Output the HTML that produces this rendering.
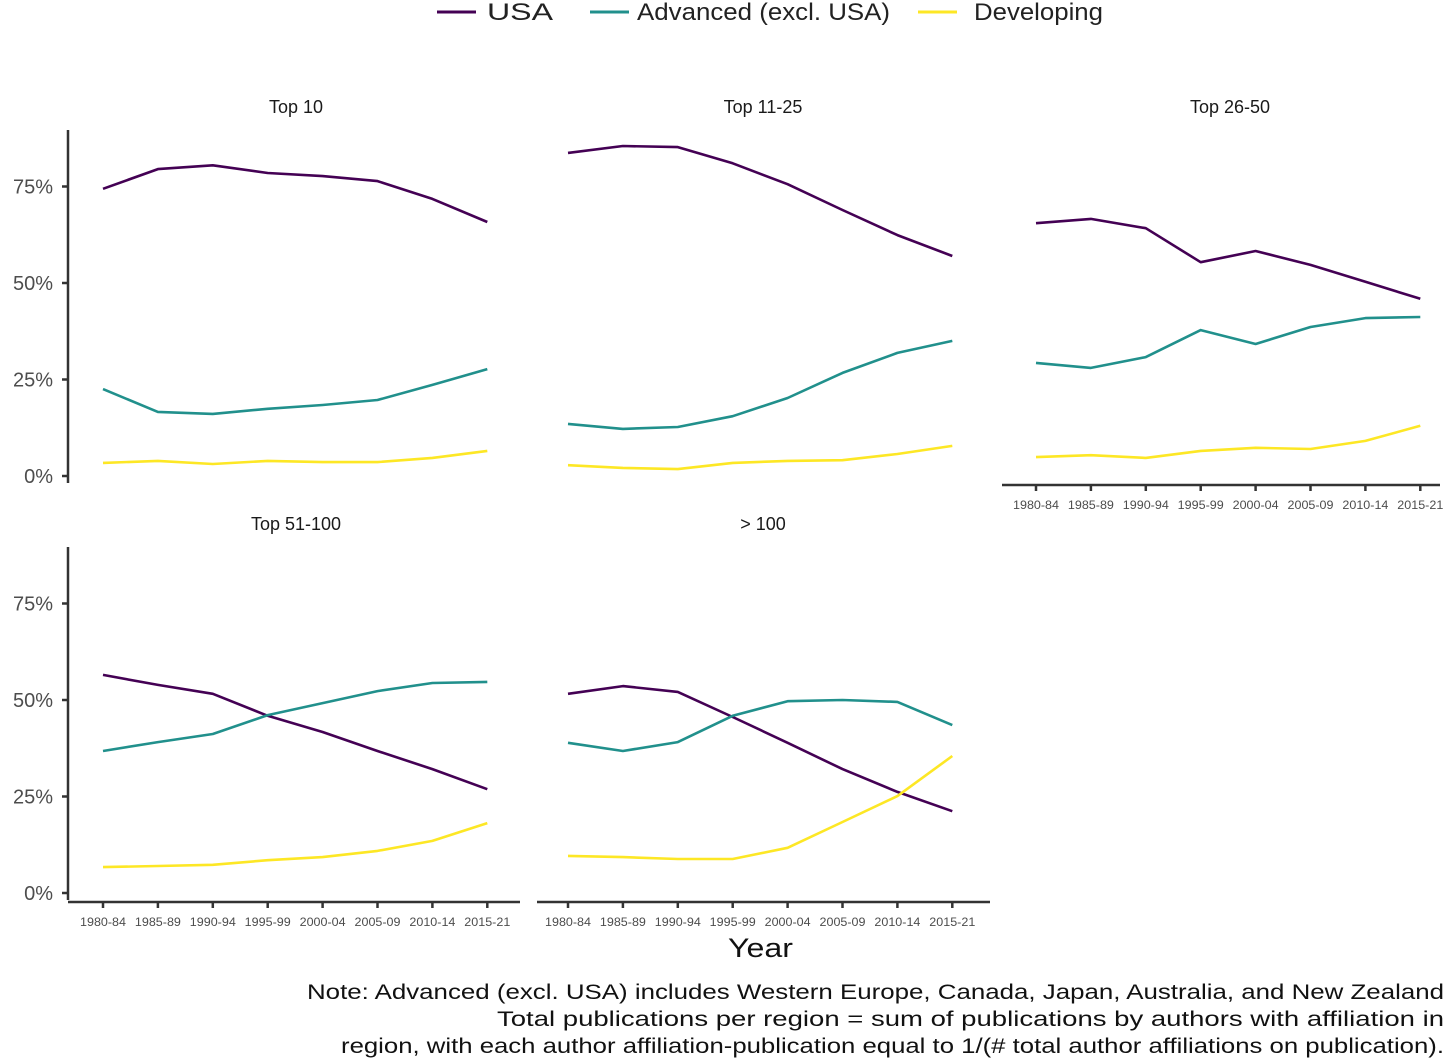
<!DOCTYPE html>
<html><head><meta charset="utf-8"><style>
body{margin:0;background:#fff;}
svg{display:block;font-family:"Liberation Sans",Arial,sans-serif;}
</style></head><body>
<svg id="chart" width="1456" height="1063" viewBox="0 0 1456 1063">
<g>
 <line x1="437" y1="12" x2="476" y2="12" stroke="#440154" stroke-width="3"/>
 <text x="487" y="20" font-size="24" fill="#222" textLength="66" lengthAdjust="spacingAndGlyphs">USA</text>
 <line x1="590" y1="12" x2="629" y2="12" stroke="#21908C" stroke-width="3"/>
 <text x="637" y="20" font-size="24" fill="#222" textLength="253" lengthAdjust="spacingAndGlyphs">Advanced (excl. USA)</text>
 <line x1="918" y1="12" x2="957" y2="12" stroke="#FDE725" stroke-width="3"/>
 <text x="974" y="20" font-size="24" fill="#222" textLength="129" lengthAdjust="spacingAndGlyphs">Developing</text>
</g>
<g id="panels"></g>
<text x="728" y="957" font-size="27" fill="#111" textLength="65" lengthAdjust="spacingAndGlyphs">Year</text>
<g font-size="21" fill="#111" lengthAdjust="spacingAndGlyphs">
 <text x="307" y="999" textLength="1137" lengthAdjust="spacingAndGlyphs">Note: Advanced (excl. USA) includes Western Europe, Canada, Japan, Australia, and New Zealand</text>
 <text x="497" y="1026" textLength="947" lengthAdjust="spacingAndGlyphs">Total publications per region = sum of publications by authors with affiliation in</text>
 <text x="341" y="1053" textLength="1103" lengthAdjust="spacingAndGlyphs">region, with each author affiliation-publication equal to 1/(# total author affiliations on publication).</text>
</g>
</svg>
<script>
const categories = ["1980-84","1985-89","1990-94","1995-99","2000-04","2005-09","2010-14","2015-21"];
const panelTitles = ["Top 10","Top 11-25","Top 26-50","Top 51-100","> 100"];
const yTicks = [0,25,50,75];
const yTickLabels = ["0%","25%","50%","75%"];
const usa = [
 [74.4,79.5,80.5,78.5,77.7,76.4,71.8,65.8],
 [83.7,85.5,85.2,81.0,75.6,68.9,62.4,57.0],
 [65.5,66.6,64.2,55.4,58.3,54.7,50.3,45.9],
 [56.5,53.9,51.6,45.9,41.7,36.8,32.1,26.9],
 [51.6,53.6,52.1,45.6,38.9,32.1,26.2,21.2]];
const advanced = [
 [22.5,16.6,16.1,17.4,18.4,19.7,23.6,27.7],
 [13.5,12.2,12.7,15.5,20.2,26.7,31.9,35.0],
 [29.3,28.0,30.8,37.8,34.2,38.6,40.9,41.2],
 [36.8,39.1,41.2,46.1,49.2,52.3,54.4,54.7],
 [38.9,36.8,39.1,45.9,49.7,50.0,49.5,43.5]];
const developing = [
 [3.4,3.9,3.1,3.9,3.6,3.6,4.7,6.5],
 [2.8,2.1,1.8,3.4,3.9,4.1,5.7,7.8],
 [4.9,5.4,4.7,6.5,7.3,7.0,9.1,13.0],
 [6.7,7.0,7.3,8.5,9.3,10.9,13.5,18.1],
 [9.6,9.3,8.8,8.8,11.7,18.4,25.1,35.5]];

const NS="http://www.w3.org/2000/svg";
const root=document.getElementById('panels');
const layout=[
 {x0:103,zeroY:476,left:68,right:520,top:130,yAxis:true,xAxis:false,titleY:113,titleX:296},
 {x0:568,zeroY:476,left:537,right:990,top:130,yAxis:false,xAxis:false,titleY:113,titleX:763},
 {x0:1036,zeroY:476,left:1002,right:1440,top:130,yAxis:false,xAxis:true,titleY:113,titleX:1230},
 {x0:103,zeroY:893,left:68,right:520,top:547,yAxis:true,xAxis:true,titleY:530,titleX:296},
 {x0:568,zeroY:893,left:537,right:990,top:547,yAxis:false,xAxis:true,titleY:530,titleX:763}];
const STEP=54.9, PPU=3.86;
function mk(tag,attrs,parent){const e=document.createElementNS(NS,tag);for(const k in attrs)e.setAttribute(k,attrs[k]);parent.appendChild(e);return e;}
const seriesList=[[usa,"#440154","usa"],[advanced,"#21908C","advanced"],[developing,"#FDE725","developing"]];
layout.forEach((L,p)=>{
 const xS=i=>L.x0+i*STEP, yS=v=>L.zeroY-v*PPU;
 const g=mk('g',{},root);
 
 
 const t=mk('text',{x:L.titleX,y:L.titleY,'font-size':18,'text-anchor':'middle',fill:'#1a1a1a'},g);
 t.textContent=panelTitles[p];
 
 
 if(L.yAxis){
  const ax=mk('line',{x1:L.left,x2:L.left,y1:L.top,y2:L.zeroY+7,stroke:'#333','stroke-width':2.5},g);
  
  
  yTicks.forEach((v,i)=>{
   mk('line',{x1:L.left-6,x2:L.left,y1:yS(v),y2:yS(v),stroke:'#333','stroke-width':2.5},g);
   const tl=mk('text',{x:L.left-15,y:yS(v)+7,'font-size':20,'text-anchor':'end',fill:'#4d4d4d'},g);
   tl.textContent=yTickLabels[i];
   
   
  });
 }
 if(L.xAxis){
  const ay=L.zeroY+9;
  const ax=mk('line',{x1:L.left,x2:L.right,y1:ay,y2:ay,stroke:'#333','stroke-width':2.5},g);
  
  
  categories.forEach((c,i)=>{
   mk('line',{x1:xS(i),x2:xS(i),y1:ay,y2:ay+6,stroke:'#333','stroke-width':2.5},g);
   const tl=mk('text',{x:xS(i),y:ay+24,'font-size':12,'text-anchor':'middle',fill:'#4d4d4d',textLength:46,lengthAdjust:'spacingAndGlyphs'},g);
   tl.textContent=c;
   
   
  });
 }
 seriesList.forEach(([arr,col,name])=>{
  const pts=arr[p].map((v,i)=>xS(i).toFixed(1)+','+yS(v).toFixed(1)).join(' ');
  const pl=mk('polyline',{points:pts,fill:'none',stroke:col,'stroke-width':2.6,'stroke-linejoin':'round'},g);
  
  
 });
});
</script>
</body></html>
